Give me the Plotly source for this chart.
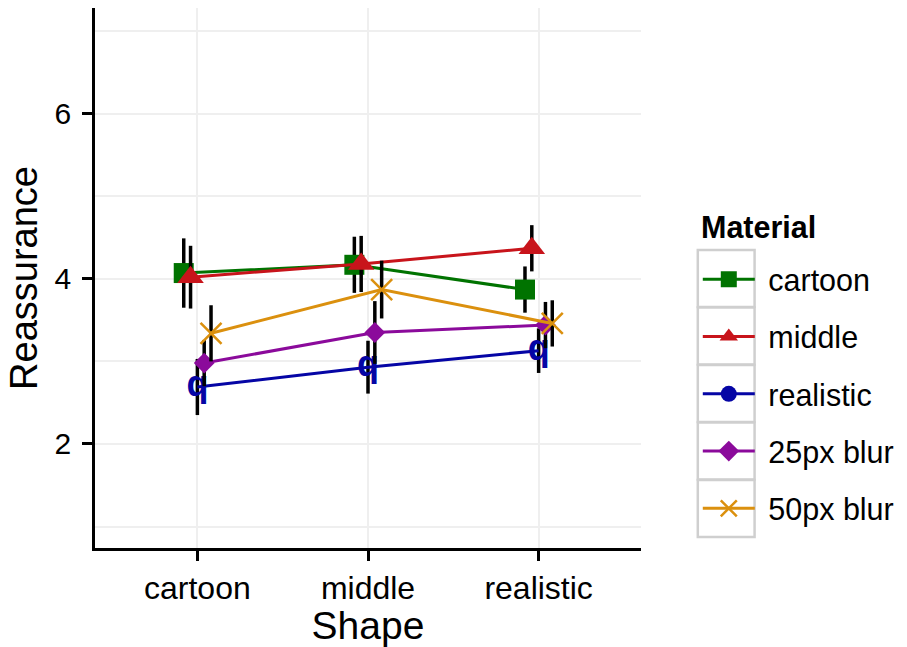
import plotly.graph_objects as go

# Shape categories on the x axis
shapes = ["cartoon", "middle", "realistic"]

# Mean reassurance and error half-widths per material
cartoon_mean = [4.07, 4.17, 3.87]
cartoon_err = [0.42, 0.34, 0.28]
middle_mean = [4.02, 4.18, 4.37]
middle_err = [0.38, 0.34, 0.28]
realistic_mean = [2.69, 2.93, 3.13]
realistic_err = [0.34, 0.32, 0.27]
blur25_mean = [2.98, 3.35, 3.44]
blur25_err = [0.28, 0.38, 0.28]
blur50_mean = [3.34, 3.87, 3.46]
blur50_err = [0.34, 0.35, 0.28]

materials = ["cartoon", "middle", "realistic", "25px blur", "50px blur"]
means = [cartoon_mean, middle_mean, realistic_mean, blur25_mean, blur50_mean]
errs = [cartoon_err, middle_err, realistic_err, blur25_err, blur50_err]

colors = ["#007300", "#C8141B", "#0505A5", "#8B0A9B", "#DB900E"]
symbols = ["square", "triangle-up", "circle", "diamond", "x-thin-open"]
msizes = [20, 23, 17, 16, 21]
dodge = [-0.08, -0.04, 0.0, 0.04, 0.08]

FONT = "Liberation Sans, Arial, Helvetica, sans-serif"
LW = 3

fig = go.Figure()
base = list(range(1, len(shapes) + 1))

for i, name in enumerate(materials):
    xs = [b + dodge[i] for b in base]
    err = dict(type="data", array=errs[i], visible=True,
               color="black", thickness=3.5, width=0)
    label = "\u00a0" + name
    if symbols[i] == "circle":
        # realistic material is drawn with a bold "q" glyph in the panel
        fig.add_trace(go.Scatter(
            x=xs, y=means[i], mode="lines+text", text=["<b>q</b>"] * len(xs),
            textposition="middle center",
            textfont=dict(family=FONT, size=36, color=colors[i]),
            line=dict(color=colors[i], width=LW), error_y=err,
            showlegend=False, hoverinfo="x+y"))
        fig.add_trace(go.Scatter(
            x=[None], y=[None], mode="lines+markers", name=label,
            line=dict(color=colors[i], width=LW),
            marker=dict(symbol="circle", size=msizes[i], color=colors[i]),
            legendrank=i + 1, legendgroup=name))
    else:
        mk = dict(symbol=symbols[i], size=msizes[i], color=colors[i])
        if symbols[i].endswith("open"):
            mk["line"] = dict(color=colors[i], width=2.5)
        fig.add_trace(go.Scatter(
            x=xs, y=means[i], mode="lines+markers", name=label,
            line=dict(color=colors[i], width=LW), marker=mk, error_y=err,
            legendrank=i + 1, legendgroup=name))

# grey boxes behind each legend key
L, R, T, B = 95, 643, 8, 548
def px(xp): return (xp - L) / (R - L)
def py(yp): return (B - yp) / (B - T)
box_tops = [250, 307.5, 365, 422.5, 480]
for top in box_tops:
    fig.add_shape(type="rect", xref="paper", yref="paper",
                  x0=px(700), x1=px(757), y0=py(top), y1=py(top + 57),
                  line=dict(color="#CFCFCF", width=2.5), fillcolor="white",
                  layer="below")

fig.add_annotation(text="<b>Material</b>", xref="paper", yref="paper",
                   x=px(701), y=py(227), xanchor="left", yanchor="middle",
                   showarrow=False, font=dict(size=30.5, family=FONT, color="black"))

fig.update_layout(
    width=907, height=647,
    margin=dict(l=L, r=907 - R, t=T, b=647 - B, pad=0),
    plot_bgcolor="white", paper_bgcolor="white",
    font=dict(family=FONT, color="black"),
    legend=dict(
        font=dict(size=30.5, family=FONT, color="black"),
        x=px(700), xanchor="left", y=py(394), yanchor="middle",
        bgcolor="rgba(0,0,0,0)", tracegroupgap=14.6, itemwidth=52,
        traceorder="grouped"),
    xaxis=dict(
        range=[0.4, 3.6], tickvals=base, ticktext=shapes,
        showline=True, linecolor="black", linewidth=2.5,
        ticks="outside", ticklen=10, tickwidth=2.5, tickcolor="black",
        ticklabelstandoff=0,
        tickfont=dict(size=32, family=FONT, color="black"),
        showgrid=True, gridcolor="#EFEFEF", gridwidth=1.5, zeroline=False,
        title=dict(text="Shape", font=dict(size=39, family=FONT), standoff=4)),
    yaxis=dict(
        range=[0.74, 7.28], tickvals=[2, 4, 6],
        showline=True, linecolor="black", linewidth=2.5,
        ticks="outside", ticklen=10, tickwidth=2.5, tickcolor="black",
        ticklabelstandoff=5,
        tickfont=dict(size=30, family=FONT, color="black"),
        showgrid=True, gridcolor="#EFEFEF", gridwidth=1.5, zeroline=False,
        minor=dict(tickvals=[1, 3, 5, 7], showgrid=True,
                   gridcolor="#EFEFEF", gridwidth=1.5),
        title=dict(text="Reassurance", font=dict(size=38, family=FONT), standoff=6)),
)

fig.write_html("out.html")
